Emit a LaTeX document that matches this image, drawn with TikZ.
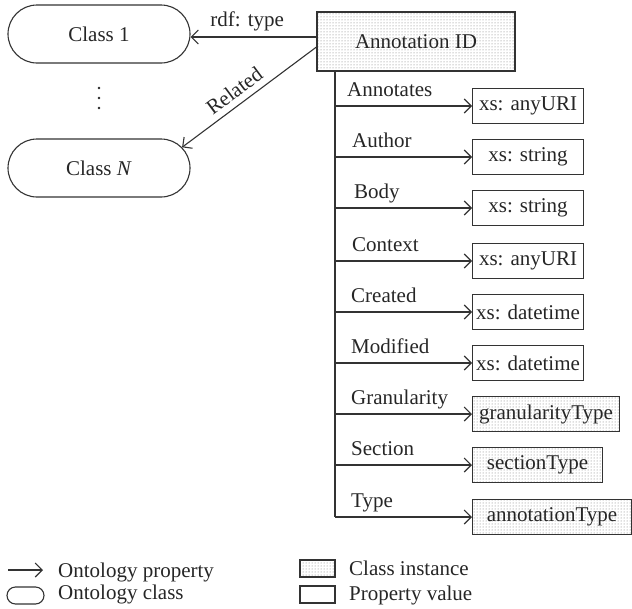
\documentclass[tikz,border=0pt]{standalone}
\usepackage{fontspec}
\setmainfont{Liberation Serif}
\usetikzlibrary{arrows.meta,patterns,shapes.misc}
\begin{document}
\begin{tikzpicture}[x=1pt,y=-1pt,
  every node/.style={font=\fontsize{21}{24}\selectfont, text=black!85, inner sep=0pt},
  line/.style={draw=black!80, line width=1.1pt},
  prop/.style={line, -{Straight Barb[length=7pt,width=14pt]}},
  cls/.style={line, rounded rectangle, minimum width=182pt, minimum height=58pt},
  inst/.style={line, rectangle, pattern=dots, pattern color=black!55},
  valbox/.style={line, rectangle, minimum height=35pt, minimum width=111pt, anchor=west},
  instbox/.style={inst, minimum height=35pt, anchor=west},
  lab/.style={anchor=base west},
  dotmark/.style={fill=black!85},
]
\useasboundingbox (0,0) rectangle (632,608);

% classes
\node[cls] (c1) at (99,34) {Class 1};
\node[cls] (cN) at (99,168) {Class \textit{N}};
\foreach \d in {88,98,108} { \fill[dotmark] (99,\d) circle (1.4pt); }

% annotation instance
\node[inst, minimum width=198pt, minimum height=59pt] (ann) at (416,41.5) {Annotation ID};

\coordinate (r0) at ([yshift=4.5pt]ann.west);
\draw[prop] (r0) -- node[pos=0.55, above=5pt] {rdf: type} (r0 -| c1.east);
\draw[prop] ([yshift=-5.5pt]ann.west) -- node[pos=0.55, sloped, above=6pt] {Related} (cN.14);

% trunk
\coordinate (t0) at (335,71);
\coordinate (t1) at (335,517);
\draw[line] (t0) -- (t1);

% property values
\node[valbox] (v1) at (472,106) {xs: anyURI};
\node[valbox] (v2) at (472,157) {xs: string};
\node[valbox] (v3) at (472,208) {xs: string};
\node[valbox] (v4) at (472,261) {xs: anyURI};
\node[valbox] (v5) at (472,312) {xs: datetime};
\node[valbox] (v6) at (472,363) {xs: datetime};
\node[instbox, minimum width=147pt] (v7) at (472,414) {granularityType};
\node[instbox, minimum width=130pt] (v8) at (472,465) {sectionType};
\node[instbox, minimum width=159pt] (v9) at (472,517) {annotationType};

% branches
\foreach \i in {1,...,9} {
  \coordinate (b\i) at (t0 |- v\i.west);
  \draw[prop] (b\i) -- (v\i.west);
}

% property labels
\node[lab] (l1) at (347,96) {Annotates};
\node[lab] (l2) at (352,147) {Author};
\node[lab] (l3) at (354,198) {Body};
\node[lab] (l4) at (352,251) {Context};
\node[lab] (l5) at (351,302) {Created};
\node[lab] (l6) at (351,353) {Modified};
\node[lab] (l7) at (351,404) {Granularity};
\node[lab] (l8) at (351,455) {Section};
\node[lab] (l9) at (351,507) {Type};

% legend
\coordinate (la0) at (8,570);
\coordinate (la1) at (43,570);
\draw[prop] (la0) -- (la1);
\node[line, rounded rectangle, minimum width=37pt, minimum height=17pt] (lc) at (25.5,595.5) {};
\node[lab] (lt1) at (58,577) {Ontology property};
\node[lab] (lt2) at (58,599) {Ontology class};
\node[inst, minimum width=35pt, minimum height=17pt] (li) at (317.5,568.5) {};
\node[line, minimum width=35pt, minimum height=17pt] (lv) at (317.5,594.5) {};
\node[lab] (lt3) at (349,575) {Class instance};
\node[lab] (lt4) at (349,600) {Property value};
\end{tikzpicture}
\end{document}
